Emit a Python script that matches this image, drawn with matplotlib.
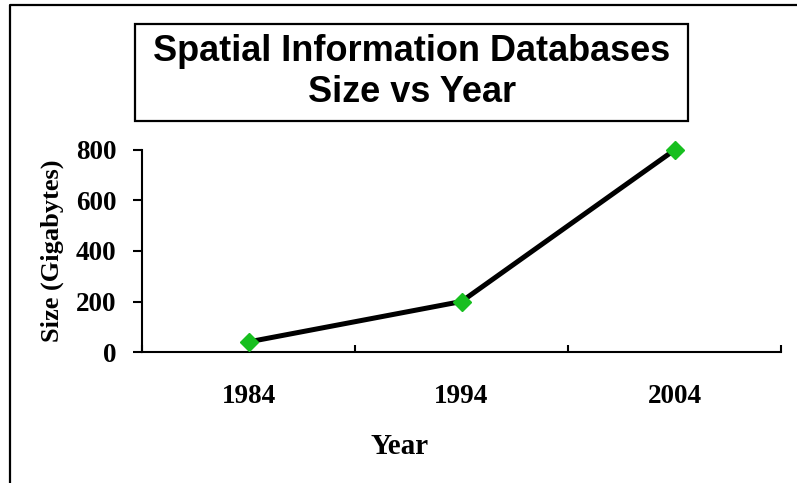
import matplotlib
matplotlib.use('Agg')
import matplotlib.pyplot as plt
from matplotlib.patches import Rectangle
from matplotlib.lines import Line2D
import numpy as np

years = ['1984', '1994', '2004']
sizes = [40, 200, 800]
yticks = [0, 200, 400, 600, 800]

W, H = 797, 483
fig = plt.figure(figsize=(W / 100, H / 100), dpi=100)

def fx(px):
    return px / W

def fy(py):
    return 1 - py / H

# outer chart frame (left and top edges visible)
fig.add_artist(Line2D([fx(10), fx(10), fx(800)], [fy(490), fy(5), fy(5)],
                      transform=fig.transFigure, color='black', lw=1.6))

# title box
fig.add_artist(Rectangle((fx(135), fy(121)), fx(688) - fx(135), fy(24) - fy(121),
                         transform=fig.transFigure, fill=False, ec='black', lw=1.6))
fig.text(fx(412), fy(72), 'Spatial Information Databases\nSize vs Year',
         ha='center', va='center', family='Liberation Sans', weight='bold',
         fontsize=26, linespacing=1.2)

ax = fig.add_axes([fx(142), fy(352), fx(781) - fx(142), fy(150) - fy(352)])
x = np.arange(len(years))
ax.plot(x, sizes, color='black', lw=3.6, marker='D', ms=9.5,
        mfc='#17BF1F', mec='#17BF1F', zorder=3, clip_on=False)

ax.set_xlim(-0.5, len(years) - 0.5)
ax.set_ylim(0, 800)
ax.set_yticks(yticks)
ax.set_xticks(x)
ax.set_xticklabels(years)
ax.set_xticks(np.arange(len(years) + 1) - 0.5, minor=True)

serif = dict(family='Liberation Serif', weight='bold')
for lab in ax.get_xticklabels() + ax.get_yticklabels():
    lab.set_fontproperties(matplotlib.font_manager.FontProperties(size=19.5, **serif))

ax.tick_params(axis='x', which='major', length=0, pad=23)
ax.tick_params(axis='x', which='minor', direction='in', length=5, width=1.5)
ax.tick_params(axis='y', direction='out', length=6.5, width=1.5, pad=12)

for s in ['top', 'right']:
    ax.spines[s].set_visible(False)
for s in ['left', 'bottom']:
    ax.spines[s].set_linewidth(1.5)

fig.text(fx(52), fy(251), 'Size (Gigabytes)', rotation=90, ha='center', va='center',
         fontsize=19, **serif)
fig.text(fx(400), fy(447), 'Year', ha='center', va='center', fontsize=21, **serif)

fig.savefig('out.png', dpi=100)
